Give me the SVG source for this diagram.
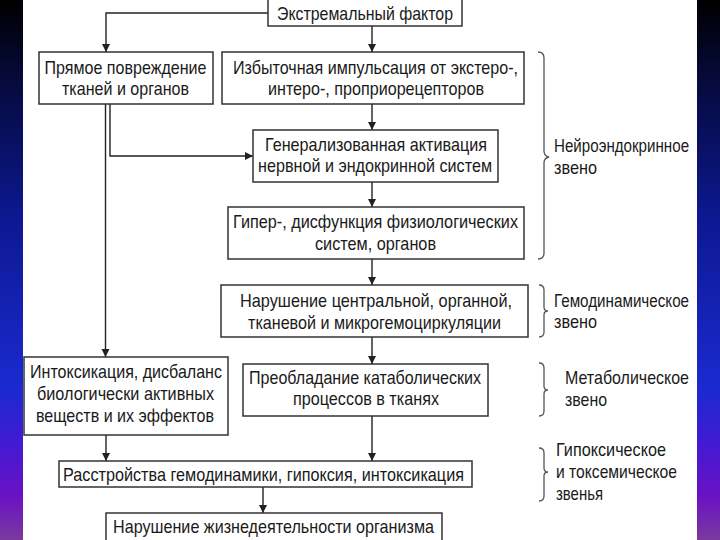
<svg xmlns="http://www.w3.org/2000/svg" width="720" height="540" viewBox="0 0 720 540">
<defs>
<linearGradient id="side" x1="0" y1="0" x2="0" y2="1">
<stop offset="0" stop-color="#000000"/>
<stop offset="0.15" stop-color="#060a3c"/>
<stop offset="0.4" stop-color="#0c1890"/>
<stop offset="0.72" stop-color="#1a2ad0"/>
<stop offset="0.84" stop-color="#4a18d0"/>
<stop offset="0.92" stop-color="#6a12c4"/>
<stop offset="1" stop-color="#7a3a9c"/>
</linearGradient>
<marker id="arr" viewBox="0 0 10 10" refX="10" refY="5" markerWidth="8" markerHeight="9" markerUnits="userSpaceOnUse" orient="auto">
<path d="M0,0 L10,5 L0,10 z" fill="#222"/>
</marker>
<style>
.box{fill:#fff;stroke:#333;stroke-width:1.5}
.t{font-family:"Liberation Sans",Arial,sans-serif;font-size:19px;fill:#1a1a1a}
.c{fill:none;stroke:#222;stroke-width:1.4}
.br{fill:none;stroke:#555;stroke-width:1.3}
</style>
</defs>
<rect x="0" y="0" width="720" height="540" fill="#ffffff"/>
<rect x="0" y="0" width="23" height="540" fill="url(#side)"/>
<rect x="697" y="0" width="23" height="540" fill="url(#side)"/>

<g id="connectors">
<path class="c" d="M268,13 H106 V52" marker-end="url(#arr)"/>
<path class="c" d="M372,26 V52" marker-end="url(#arr)"/>
<path class="c" d="M372,104 V130" marker-end="url(#arr)"/>
<path class="c" d="M372,182 V207" marker-end="url(#arr)"/>
<path class="c" d="M372,259 V285" marker-end="url(#arr)"/>
<path class="c" d="M372,337 V364" marker-end="url(#arr)"/>
<path class="c" d="M372,416 V461" marker-end="url(#arr)"/>
<path class="c" d="M110,104 V156 H253" marker-end="url(#arr)"/>
<path class="c" d="M105.5,104 V357" marker-end="url(#arr)"/>
<path class="c" d="M106,435 V461" marker-end="url(#arr)"/>
<path class="c" d="M263,487 V513" marker-end="url(#arr)"/>
</g>

<g id="n1">
<rect class="box" x="268" y="-1" width="194" height="27"/>
<text class="t" x="277" y="20" textLength="176" lengthAdjust="spacingAndGlyphs">Экстремальный фактор</text>
</g>
<g id="n2">
<rect class="box" x="39" y="52" width="174" height="52"/>
<text class="t" x="44.5" y="74" textLength="162" lengthAdjust="spacingAndGlyphs">Прямое повреждение</text>
<text class="t" x="62" y="95" textLength="127" lengthAdjust="spacingAndGlyphs">тканей и органов</text>
</g>
<g id="n3">
<rect class="box" x="222" y="52" width="302" height="52"/>
<text class="t" x="233" y="74" textLength="285" lengthAdjust="spacingAndGlyphs">Избыточная импульсация от экстеро-,</text>
<text class="t" x="268" y="95" textLength="216" lengthAdjust="spacingAndGlyphs">интеро-, проприорецепторов</text>
</g>
<g id="n4">
<rect class="box" x="253" y="130" width="245" height="52"/>
<text class="t" x="265" y="151" textLength="222" lengthAdjust="spacingAndGlyphs">Генерализованная активация</text>
<text class="t" x="258" y="172" textLength="234" lengthAdjust="spacingAndGlyphs">нервной и эндокринной систем</text>
</g>
<g id="n5">
<rect class="box" x="228" y="207" width="296" height="52"/>
<text class="t" x="233" y="228" textLength="285" lengthAdjust="spacingAndGlyphs">Гипер-, дисфункция физиологических</text>
<text class="t" x="315" y="250" textLength="121" lengthAdjust="spacingAndGlyphs">систем, органов</text>
</g>
<g id="n6">
<rect class="box" x="221" y="285" width="307" height="52"/>
<text class="t" x="240" y="307" textLength="272" lengthAdjust="spacingAndGlyphs">Нарушение центральной, органной,</text>
<text class="t" x="248" y="329" textLength="253" lengthAdjust="spacingAndGlyphs">тканевой и микрогемоциркуляции</text>
</g>
<g id="n7">
<rect class="box" x="24" y="357" width="204" height="78"/>
<text class="t" x="30" y="378" textLength="192" lengthAdjust="spacingAndGlyphs">Интоксикация, дисбаланс</text>
<text class="t" x="37" y="400" textLength="177" lengthAdjust="spacingAndGlyphs">биологически активных</text>
<text class="t" x="36" y="422" textLength="178" lengthAdjust="spacingAndGlyphs">веществ и их эффектов</text>
</g>
<g id="n8">
<rect class="box" x="243" y="364" width="245" height="52"/>
<text class="t" x="249" y="384" textLength="232" lengthAdjust="spacingAndGlyphs">Преобладание катаболических</text>
<text class="t" x="293" y="405" textLength="146" lengthAdjust="spacingAndGlyphs">процессов в тканях</text>
</g>
<g id="n9">
<rect class="box" x="59" y="461" width="413" height="26"/>
<text class="t" x="63" y="481" textLength="401" lengthAdjust="spacingAndGlyphs">Расстройства гемодинамики, гипоксия, интоксикация</text>
</g>
<g id="n10">
<rect class="box" x="106" y="513" width="336" height="32"/>
<text class="t" x="113" y="533" textLength="321" lengthAdjust="spacingAndGlyphs">Нарушение жизнедеятельности организма</text>
</g>

<g id="brace-neuro">
<path class="br" d="M538,52 Q544,52 544,58 V151 Q544,156 549,157 Q544,158 544,163 V253 Q544,259 538,259"/>
<text class="t" transform="translate(554,152) scale(0.804,1)" x="0" y="0" textLength="168" lengthAdjust="spacingAndGlyphs">Нейроэндокринное</text>
<text class="t" x="554" y="174" textLength="43" lengthAdjust="spacingAndGlyphs">звено</text>
</g>
<g id="brace-hemo">
<path class="br" d="M539,285 Q544,285 544,290 V307 Q544,311 548,311 Q544,311 544,315 V332 Q544,337 539,337"/>
<text class="t" transform="translate(554,307) scale(0.804,1)" x="0" y="0" textLength="168" lengthAdjust="spacingAndGlyphs">Гемодинамическое</text>
<text class="t" x="554" y="328" textLength="43" lengthAdjust="spacingAndGlyphs">звено</text>
</g>
<g id="brace-meta">
<path class="br" d="M539,363 Q544,363 544,368 V386 Q544,390 548,390 Q544,390 544,394 V411 Q544,416 539,416"/>
<text class="t" x="565" y="384" textLength="124" lengthAdjust="spacingAndGlyphs">Метаболическое</text>
<text class="t" x="565" y="406" textLength="42" lengthAdjust="spacingAndGlyphs">звено</text>
</g>
<g id="brace-hypox">
<path class="br" d="M539,448 Q544,448 544,453 V468 Q544,472 548,472 Q544,472 544,476 V496 Q544,501 539,501"/>
<text class="t" x="556" y="456" textLength="110" lengthAdjust="spacingAndGlyphs">Гипоксическое</text>
<text class="t" x="556" y="478" textLength="121" lengthAdjust="spacingAndGlyphs">и токсемическое</text>
<text class="t" x="556" y="500" textLength="47" lengthAdjust="spacingAndGlyphs">звенья</text>
</g>
</svg>
